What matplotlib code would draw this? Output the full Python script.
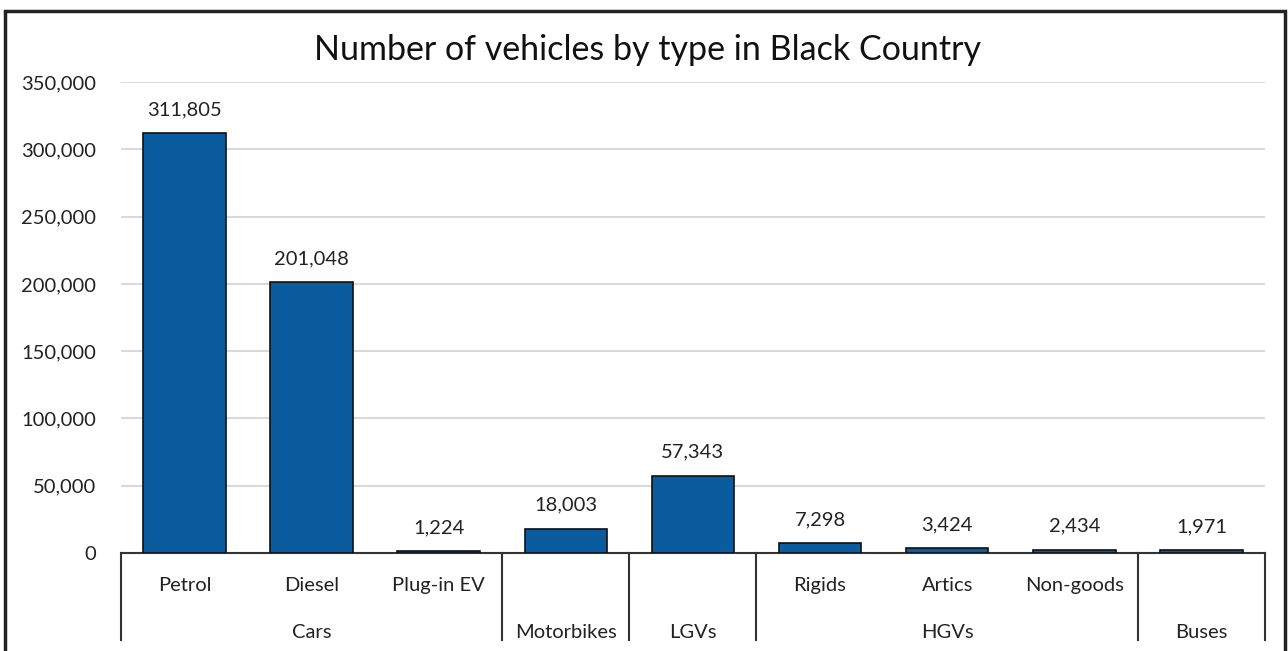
import matplotlib.pyplot as plt
from matplotlib.patches import Rectangle
from matplotlib.ticker import FuncFormatter

# vehicle counts, one bar per sub-type
sub_labels = ['Petrol', 'Diesel', 'Plug-in EV', '', '', 'Rigids', 'Artics', 'Non-goods', '']
values = [311805, 201048, 1224, 18003, 57343, 7298, 3424, 2434, 1971]
group_names = ['Cars', 'Motorbikes', 'LGVs', 'HGVs', 'Buses']
group_sizes = [3, 1, 1, 3, 1]

plt.rcParams['font.family'] = ['Lato', 'DejaVu Sans']

fig = plt.figure(figsize=(12.88, 6.51), dpi=100)
ax = fig.add_axes([0.0939, 0.1505, 0.8882, 0.7235])

x = list(range(len(values)))
bars = ax.bar(x, values, width=0.65, color='#0b5c9e', edgecolor='#111111', linewidth=1.2, zorder=3)

for b, v in zip(bars, values):
    ax.annotate(f'{v:,}', (b.get_x() + b.get_width() / 2, v), xytext=(0, 11),
                textcoords='offset points', ha='center', va='bottom', fontsize=14.5, color='#222222')

ax.set_xlim(-0.5, len(values) - 0.5)
ax.set_ylim(0, 350000)
ax.set_yticks(range(0, 350001, 50000))
ax.yaxis.set_major_formatter(FuncFormatter(lambda v, p: f'{int(v):,}'))
ax.tick_params(axis='y', length=0, pad=18, labelsize=14.5, labelcolor='#222222')
ax.grid(axis='y', color='#d9d9d9', linewidth=1.5, zorder=0)
ax.set_xticks([])
for s in ['top', 'right', 'left']:
    ax.spines[s].set_visible(False)
ax.spines['bottom'].set_color('#333333')
ax.spines['bottom'].set_linewidth(1.5)

# two-level category axis
trans = ax.get_xaxis_transform()
for i, lab in enumerate(sub_labels):
    if lab:
        ax.text(i, -0.068, lab, transform=trans, ha='center', va='center',
                fontsize=14.5, color='#222222')

start = 0
edges = [-0.5]
for name, n in zip(group_names, group_sizes):
    centre = start + (n - 1) / 2
    ax.text(centre, -0.168, name, transform=trans, ha='center', va='center',
            fontsize=14.5, color='#222222')
    start += n
    edges.append(start - 0.5)

for e in edges:
    ax.plot([e, e], [0, -0.185], transform=trans, color='#333333', linewidth=1.5, clip_on=False)

fig.text(0.503, 0.923, 'Number of vehicles by type in Black Country', ha='center', va='center',
         fontsize=24.5, color='#111111')

# outer frame
fig.patches.append(Rectangle((5 / 1288, -0.05), 1280 / 1288, 1 - 11 / 651 + 0.05,
                             transform=fig.transFigure, fill=False, edgecolor='#222222', linewidth=2.5))

fig.savefig('out.png', dpi=100)
